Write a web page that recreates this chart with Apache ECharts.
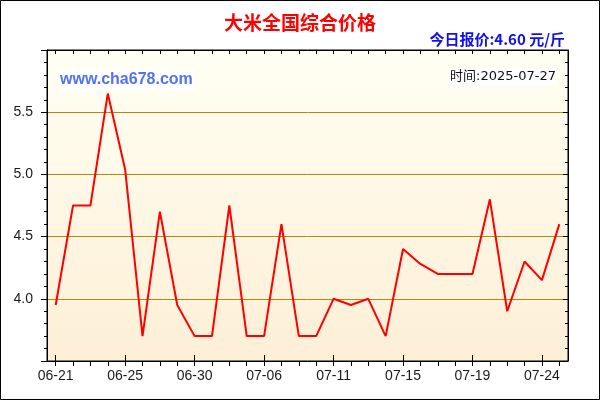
<!DOCTYPE html>
<html>
<head>
<meta charset="utf-8">
<script src="https://cdn.jsdelivr.net/npm/echarts@6/dist/echarts.min.js"></script>
<style>
html,body{margin:0;padding:0;background:#fff;}
#c{width:600px;height:400px;}
</style>
</head>
<body>
<div id="c"></div>
<script>
var dates = ['06-21','06-22','06-23','06-24','06-25','06-26','06-27','06-28','06-30','07-01',
             '07-03','07-04','07-06','07-07','07-08','07-10','07-11','07-12','07-13','07-14',
             '07-15','07-16','07-17','07-18','07-19','07-20','07-21','07-22','07-24','07-25'];
var prices = [3.95,4.75,4.75,5.65,5.04,3.70,4.70,3.95,3.70,3.70,
              4.75,3.70,3.70,4.60,3.70,3.70,4.00,3.95,4.00,3.70,
              4.40,4.28,4.20,4.20,4.20,4.80,3.90,4.30,4.15,4.60];
var yTicks = [3.5, 6.0, 0.5]; // min, max, step
var titleText = '大米全国综合价格';
var todayText = '今日报价:4.60 元/斤';
var siteText = 'www.cha678.com';
var timeText = '时间:2025-07-27';

var chart = echarts.init(document.getElementById('c'), null, {renderer:'canvas'});
var labelFont = {fontFamily:'Liberation Sans, Arial, sans-serif', fontSize:14, color:'#1a1a1a'};
var option = {
  backgroundColor:'#ffffff',
  animation:false,
  grid:{left:47, right:32, top:50, bottom:39, show:true, borderColor:'#000', borderWidth:1,
    backgroundColor:{type:'linear',x:0,y:0,x2:0,y2:1,colorStops:[{offset:0,color:'#fffff3'},{offset:1,color:'#fdefd6'}]}},
  xAxis:[
    {type:'category', data:dates, position:'bottom', boundaryGap:true,
     axisLine:{lineStyle:{color:'#000',width:1}},
     axisTick:{show:true, interval:0, alignWithLabel:true, length:5, lineStyle:{color:'#000'}},
     axisLabel:Object.assign({interval:3, margin:8}, labelFont),
     splitLine:{show:false}},
    {type:'category', data:dates, position:'bottom', boundaryGap:true,
     axisLine:{show:false},
     axisTick:{show:true, interval:3, alignWithLabel:true, inside:true, length:6, lineStyle:{color:'#000'}},
     axisLabel:{show:false}, splitLine:{show:false}},
    {type:'category', data:dates, position:'top', boundaryGap:true,
     axisLine:{lineStyle:{color:'#000',width:1}},
     axisTick:{show:true, interval:0, alignWithLabel:true, inside:true, length:4, lineStyle:{color:'#000'}},
     axisLabel:{show:false}, splitLine:{show:false}}
  ],
  yAxis:[
    {type:'value', position:'left', min:yTicks[0], max:yTicks[1], interval:yTicks[2],
     axisLine:{show:true, lineStyle:{color:'#000',width:1}},
     axisTick:{show:true, length:6, lineStyle:{color:'#000'}},
     minorTick:{show:true, splitNumber:5, length:3, lineStyle:{color:'#000'}},
     axisLabel:Object.assign({showMinLabel:false, showMaxLabel:false, margin:14,
       formatter:function(v){return v.toFixed(1);}}, labelFont),
     splitLine:{show:true, showMinLine:false, showMaxLine:false, lineStyle:{color:'#b8860b',width:1}}},
    {type:'value', position:'right', min:yTicks[0], max:yTicks[1], interval:yTicks[2],
     axisLine:{show:true, lineStyle:{color:'#000',width:1}},
     axisTick:{show:true, inside:true, length:5, lineStyle:{color:'#000'}},
     minorTick:{show:true, splitNumber:5, length:3, lineStyle:{color:'#000'}},
     axisLabel:{show:false}, splitLine:{show:false}}
  ],
  series:[{
    type:'line', xAxisIndex:0, yAxisIndex:0, data:prices, showSymbol:false, symbol:'none',
    lineStyle:{color:'#ff0000', width:2}, z:5
  }],
  graphic:[
    {type:'rect', shape:{x:0.5,y:0.5,width:599,height:399}, style:{fill:'none',stroke:'#000',lineWidth:1}, z:100},
    {type:'text', x:300, y:23, style:{text:titleText, fill:'#ff0000', font:'bold 19px "Noto Sans CJK SC", sans-serif', textAlign:'center', textVerticalAlign:'middle'}},
    {type:'text', x:565, y:39, style:{text:todayText, fill:'#1010ee', font:'bold 15px "Noto Sans CJK SC", sans-serif', textAlign:'right', textVerticalAlign:'middle'}},
    {type:'text', x:58, y:80, z:10, style:{text:siteText, fill:'#5272ee', font:'bold 16px "Liberation Sans", Arial, sans-serif', textAlign:'left', textVerticalAlign:'middle', backgroundColor:'#ffffff', padding:[3,2,3,2]}},
    {type:'text', x:557, y:77, z:10, style:{text:timeText, fill:'#111', font:'13px "DejaVu Sans", "Noto Sans CJK SC", sans-serif', textAlign:'right', textVerticalAlign:'middle', backgroundColor:'#ffffff', padding:[2,1,2,1]}}
  ]
};
chart.setOption(option);
</script>
</body>
</html>
